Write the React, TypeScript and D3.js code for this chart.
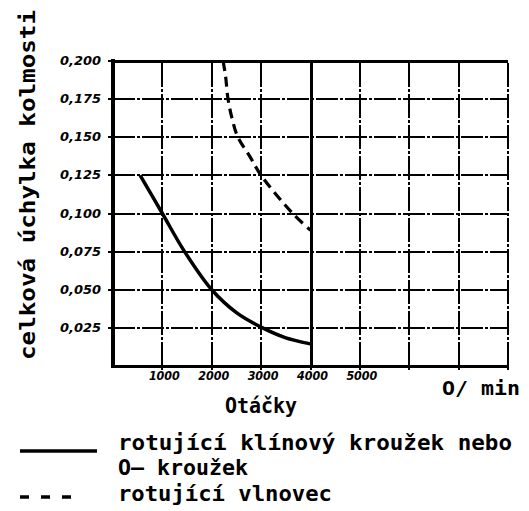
import React, { useEffect, useRef } from 'react';
import * as d3 from 'd3';

// otáčky [1/min] vs. celková úchylka kolmosti
const solidRpm = [550, 1000, 1450, 2000, 2500, 3000, 3500, 4000];
const solidDev = [0.125, 0.1, 0.075, 0.05, 0.035, 0.0255, 0.0185, 0.0145];

const dashedRpm = [2230, 2280, 2330, 2410, 2530, 2770, 3000, 3640, 4000];
const dashedDev = [0.2, 0.19, 0.175, 0.1625, 0.15, 0.1375, 0.125, 0.1, 0.089];

const yTicks = [0.025, 0.05, 0.075, 0.1, 0.125, 0.15, 0.175, 0.2];
const yTickLabels = ['0,025', '0,050', '0,075', '0,100', '0,125', '0,150', '0,175', '0,200'];
const xTicks = [1000, 2000, 3000, 4000, 5000, 6000, 7000, 8000];
const xTickLabels = ['1000', '2000', '3000', '4000', '5000', '', '', ''];

const legendLines = ['rotující  klínový kroužek nebo', 'O– kroužek', 'rotující vlnovec'];

const mono = '"DejaVu Sans Mono", "Liberation Mono", monospace';

const App = () => {
  const svgRef = useRef<SVGSVGElement>(null);

  useEffect(() => {
    const svg = d3.select(svgRef.current);
    svg.selectAll('*').remove();

    const x = d3.scaleLinear().domain([0, 8000]).range([113, 508]);
    const y = d3.scaleLinear().domain([0, 0.2]).range([366, 61]);

    // grid
    const grid = svg.append('g')
      .attr('stroke', '#000')
      .attr('fill', 'none')
      .attr('shape-rendering', 'crispEdges');
    yTicks.forEach((t, i) => {
      const top = i === yTicks.length - 1;
      grid.append('line')
        .attr('x1', x(0)).attr('x2', x(8000))
        .attr('y1', Math.round(y(t))).attr('y2', Math.round(y(t)))
        .attr('stroke-width', top ? 3 : 2)
        .attr('stroke-dasharray', top ? null : '22 2 3 2');
    });
    xTicks.forEach((t) => {
      grid.append('line')
        .attr('x1', Math.round(x(t))).attr('x2', Math.round(x(t)))
        .attr('y1', y(0)).attr('y2', y(0.2))
        .attr('stroke-width', t === 4000 ? 3 : 2)
        .attr('stroke-dasharray', t === 4000 ? null : '24 2 3 2');
    });

    // small ticks
    xTicks.forEach((t) => {
      grid.append('line')
        .attr('x1', Math.round(x(t))).attr('x2', Math.round(x(t)))
        .attr('y1', y(0)).attr('y2', y(0) + 4)
        .attr('stroke-width', 2);
    });
    yTicks.forEach((t) => {
      grid.append('line')
        .attr('x1', x(0) - 5).attr('x2', x(0))
        .attr('y1', Math.round(y(t))).attr('y2', Math.round(y(t)))
        .attr('stroke-width', 2);
    });

    // axes
    grid.append('line')
      .attr('x1', x(0)).attr('x2', x(0))
      .attr('y1', y(0.2) - 2).attr('y2', y(0) + 2)
      .attr('stroke-width', 4);
    grid.append('line')
      .attr('x1', x(0)).attr('x2', x(8000) + 1)
      .attr('y1', y(0)).attr('y2', y(0))
      .attr('stroke-width', 3);

    // tick labels
    svg.append('g')
      .selectAll('text')
      .data(yTicks)
      .enter()
      .append('text')
      .attr('x', 101)
      .attr('y', (d) => y(d) + 4)
      .attr('text-anchor', 'end')
      .attr('font-family', '"DejaVu Sans", sans-serif')
      .attr('font-style', 'italic')
      .attr('font-weight', 'bold')
      .attr('font-size', 12)
      .attr('textLength', 41)
      .attr('lengthAdjust', 'spacingAndGlyphs')
      .text((d, i) => yTickLabels[i]);

    svg.append('g')
      .selectAll('text')
      .data(xTicks.filter((d, i) => xTickLabels[i] !== ''))
      .enter()
      .append('text')
      .attr('x', (d) => x(d) + 2)
      .attr('y', 380)
      .attr('text-anchor', 'middle')
      .attr('font-family', '"DejaVu Sans", sans-serif')
      .attr('font-style', 'italic')
      .attr('font-weight', 'bold')
      .attr('font-size', 12)
      .attr('textLength', 31)
      .attr('lengthAdjust', 'spacingAndGlyphs')
      .text((d, i) => xTickLabels[i]);

    // curves
    const line = d3.line<[number, number]>()
      .x((d) => x(d[0]))
      .y((d) => y(d[1]))
      .curve(d3.curveCatmullRom.alpha(0.5));

    svg.append('path')
      .datum(solidRpm.map((r, i) => [r, solidDev[i]] as [number, number]))
      .attr('fill', 'none')
      .attr('stroke', '#000')
      .attr('stroke-width', 3.5)
      .attr('d', line);

    svg.append('path')
      .datum(dashedRpm.map((r, i) => [r, dashedDev[i]] as [number, number]))
      .attr('fill', 'none')
      .attr('stroke', '#000')
      .attr('stroke-width', 3.2)
      .attr('stroke-dasharray', '10 6')
      .attr('d', line);

    // axis titles
    svg.append('text')
      .attr('transform', 'translate(35,360) rotate(-90)')
      .attr('font-family', mono)
      .attr('font-weight', 'bold')
      .attr('font-size', 22)
      .attr('textLength', 350)
      .attr('lengthAdjust', 'spacingAndGlyphs')
      .text('celková úchylka kolmosti');

    svg.append('text')
      .attr('x', 261)
      .attr('y', 413)
      .attr('text-anchor', 'middle')
      .attr('font-family', mono)
      .attr('font-weight', 'bold')
      .attr('font-size', 21)
      .attr('textLength', 72)
      .attr('lengthAdjust', 'spacingAndGlyphs')
      .text('Otáčky');

    svg.append('text')
      .attr('x', 442)
      .attr('y', 395)
      .attr('font-family', mono)
      .attr('font-weight', 'bold')
      .attr('font-size', 20)
      .attr('textLength', 78)
      .attr('lengthAdjust', 'spacingAndGlyphs')
      .text('O/ min');

    // legend
    const legend = svg.append('g').attr('font-family', mono).attr('font-weight', 'bold').attr('font-size', 21);
    legend.append('line')
      .attr('x1', 20).attr('x2', 97).attr('y1', 451).attr('y2', 451)
      .attr('stroke', '#000').attr('stroke-width', 3.5);
    legend.append('line')
      .attr('x1', 20).attr('x2', 82).attr('y1', 497).attr('y2', 497)
      .attr('stroke', '#000').attr('stroke-width', 3.5)
      .attr('stroke-dasharray', '9 12');
    legend.append('text').attr('x', 118).attr('y', 450)
      .attr('textLength', 394).attr('lengthAdjust', 'spacingAndGlyphs').text(legendLines[0]);
    legend.append('text').attr('x', 118).attr('y', 475)
      .attr('textLength', 130).attr('lengthAdjust', 'spacingAndGlyphs').text(legendLines[1]);
    legend.append('text').attr('x', 118).attr('y', 501)
      .attr('textLength', 214).attr('lengthAdjust', 'spacingAndGlyphs').text(legendLines[2]);
  }, []);

  return (
    <svg
      ref={svgRef}
      width={529}
      height={511}
      style={{ position: 'absolute', left: 0, top: 0, background: '#fff' }}
    ></svg>
  );
};

export default App;
